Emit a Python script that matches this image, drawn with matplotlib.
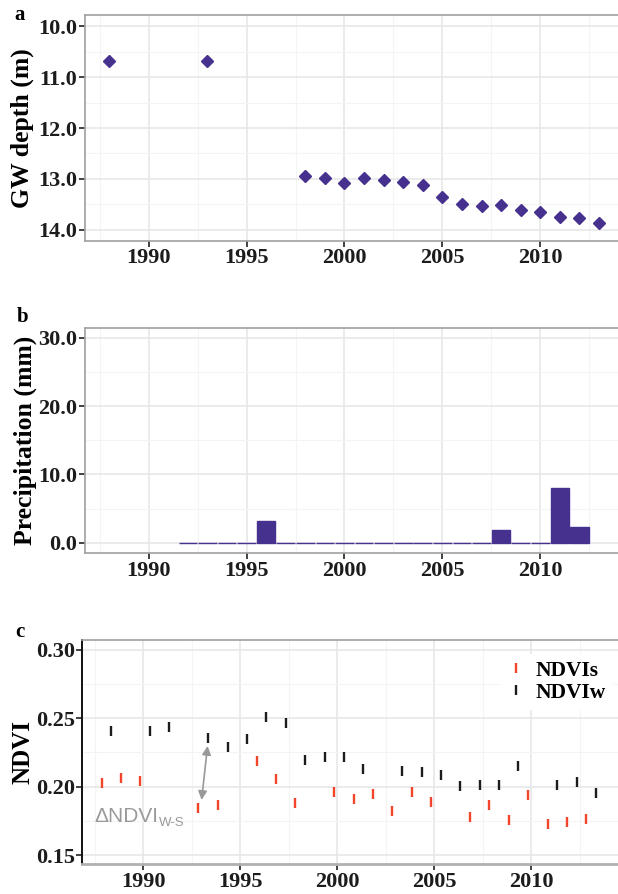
import numpy as np
import matplotlib
matplotlib.use("Agg")
import matplotlib.pyplot as plt

# ---- data ----
gw_years = [1988, 1993, 1998, 1999, 2000, 2001, 2002, 2003, 2004, 2005,
            2006, 2007, 2008, 2009, 2010, 2011, 2012, 2013]
gw_depth = [10.68, 10.68, 12.95, 12.99, 13.07, 12.98, 13.01, 13.05, 13.12, 13.35,
            13.50, 13.53, 13.51, 13.60, 13.65, 13.74, 13.76, 13.86]

precip_years = list(range(1992, 2013))
precip_mm = [0, 0, 0, 0, 3.2, 0, 0, 0, 0, 0, 0, 0, 0, 0, 0, 0, 1.9, 0, 0, 8.0, 2.3]

ndvis_years = [1988, 1989, 1990, 1993, 1994, 1996, 1997, 1998, 2000, 2001, 2002,
               2003, 2004, 2005, 2007, 2008, 2009, 2010, 2011, 2012, 2013]
ndvis = [0.203, 0.2066, 0.2041, 0.1844, 0.1863, 0.2188, 0.2059, 0.1883, 0.1961, 0.191, 0.1946,
         0.182, 0.1963, 0.1888, 0.1778, 0.1868, 0.1759, 0.1941, 0.1724, 0.1744, 0.1763]

ndviw_years = [1988, 1990, 1991, 1993, 1994, 1995, 1996, 1997, 1998, 1999, 2000,
               2001, 2003, 2004, 2005, 2006, 2007, 2008, 2009, 2011, 2012, 2013]
ndviw = [0.241, 0.241, 0.2437, 0.2354, 0.229, 0.2349, 0.2512, 0.2468, 0.2195, 0.2217, 0.222,
         0.2129, 0.2112, 0.2107, 0.2088, 0.2007, 0.201, 0.2015, 0.2151, 0.2015, 0.2034, 0.1951]

year_ticks = [1990, 1995, 2000, 2005, 2010]

purple = "#47318f"
red = "#f2452a"
dark = "#1c1c1c"

plt.rcParams["font.family"] = ["Liberation Serif", "DejaVu Serif"]
plt.rcParams["font.weight"] = "bold"

W, H = 618, 894
fig = plt.figure(figsize=(W / 100, H / 100), dpi=100)


def px_axes(x0, y0, x1, y1):
    return fig.add_axes([x0 / W, 1 - y1 / H, (x1 - x0) / W, (y1 - y0) / H])


def style(ax):
    ax.set_facecolor("white")
    ax.grid(which="major", color="#e6e6e6", lw=1.1, zorder=0)
    ax.grid(which="minor", color="#f4f4f4", lw=0.8, zorder=0)
    ax.set_axisbelow(True)
    ax.set_xticks(year_ticks)
    ax.set_xticks(np.arange(1987.5, 2015, 5), minor=True)
    ax.tick_params(which="major", length=4, width=1.3, color="#333333",
                   labelsize=16, pad=1.5, labelcolor=dark)
    ax.tick_params(which="minor", length=0)
    for lab in ax.get_xticklabels() + ax.get_yticklabels():
        lab.set_fontweight("bold")
    for s in ax.spines.values():
        s.set_color("#a0a0a0")
        s.set_linewidth(1.2)


# ---- a: groundwater depth ----
ax1 = px_axes(85, 15.3, 623.5, 240.7)
ax1.plot(gw_years, gw_depth, ls="none", marker="D", ms=6.2, color=purple, zorder=3)
ax1.set_xlim(1986.75, 2014.25)
ax1.set_ylim(14.21, 9.79)
ax1.set_yticks([10, 11, 12, 13, 14])
ax1.set_yticks(np.arange(10.5, 14.1, 1), minor=True)
ax1.set_yticklabels(["10.0", "11.0", "12.0", "13.0", "14.0"])
style(ax1)
ax1.set_ylabel("GW depth (m)", fontsize=18.5, fontweight="bold", labelpad=3)
fig.text(20 / W, 1 - 15 / H, "a", fontsize=15, fontweight="bold", ha="center", va="center")

# ---- b: precipitation ----
ax2 = px_axes(85, 327.7, 623.5, 553.3)
ax2.bar(precip_years, precip_mm, width=0.95, color=purple, edgecolor=purple,
        linewidth=1.0, zorder=3)
ax2.set_xlim(1986.75, 2014.25)
ax2.set_ylim(-1.55, 31.46)
ax2.set_yticks([0, 10, 20, 30])
ax2.set_yticks([5, 15, 25], minor=True)
ax2.set_yticklabels(["0.0", "10.0", "20.0", "30.0"])
style(ax2)
ax2.set_ylabel("Precipitation (mm)", fontsize=18.5, fontweight="bold", labelpad=1)
fig.text(23 / W, 1 - 317 / H, "b", fontsize=15, fontweight="bold", ha="center", va="center")

# ---- c: NDVI ----
ax3 = px_axes(82.3, 640, 623.2, 864.3)
ax3.plot(np.array(ndvis_years) - 0.15, ndvis, ls="none", marker="|", ms=6.5, mew=1.7,
         color=red, label="NDVIs", zorder=3)
ax3.plot(np.array(ndviw_years) + 0.35, ndviw, ls="none", marker="|", ms=6.5, mew=1.7,
         color=dark, label="NDVIw", zorder=3)
ax3.set_xlim(1986.86, 2014.75)
ax3.set_ylim(0.1432, 0.3073)
ax3.set_yticks([0.15, 0.20, 0.25, 0.30])
ax3.set_yticks([0.175, 0.225, 0.275], minor=True)
ax3.set_yticklabels(["0.15", "0.20", "0.25", "0.30"])
style(ax3)
ax3.spines["left"].set_color("#111111")
ax3.spines["left"].set_linewidth(1.4)
ax3.spines["bottom"].set_color("#b0b0b0")
ax3.spines["bottom"].set_linewidth(2.0)
ax3.set_ylabel("NDVI", fontsize=18, fontweight="bold", labelpad=1)
fig.text(20 / W, 1 - 632 / H, "c", fontsize=15, fontweight="bold", ha="center", va="center")

leg = ax3.legend(loc="upper right", bbox_to_anchor=(1.0, 0.985), frameon=True,
                 prop={"family": "Liberation Serif", "weight": "bold", "size": 15.5},
                 handlelength=0.8, handletextpad=0.5, labelspacing=0.1,
                 borderpad=0.3, fancybox=False)
leg.get_frame().set_edgecolor("white")
leg.get_frame().set_facecolor("white")
leg.get_frame().set_alpha(1)

ax3.annotate("", xy=(1993.32, 0.2298), xytext=(1993.01, 0.1903),
             arrowprops=dict(arrowstyle="<|-|>", color="#999999", lw=1.2,
                             mutation_scale=13, shrinkA=0, shrinkB=0), zorder=4)
t1 = ax3.text(1987.5, 0.1744, "\u0394NDVI", family="Liberation Sans", fontweight="normal",
              fontsize=15, color="#9a9a9a", va="baseline", ha="left")
ax3.annotate("W-S", xy=(1, 0), xycoords=t1, xytext=(0.5, -2.5), textcoords="offset points",
             family="Liberation Sans", fontweight="normal", fontsize=9.5,
             color="#9a9a9a", va="bottom", ha="left")

fig.savefig("out.png", dpi=100)
